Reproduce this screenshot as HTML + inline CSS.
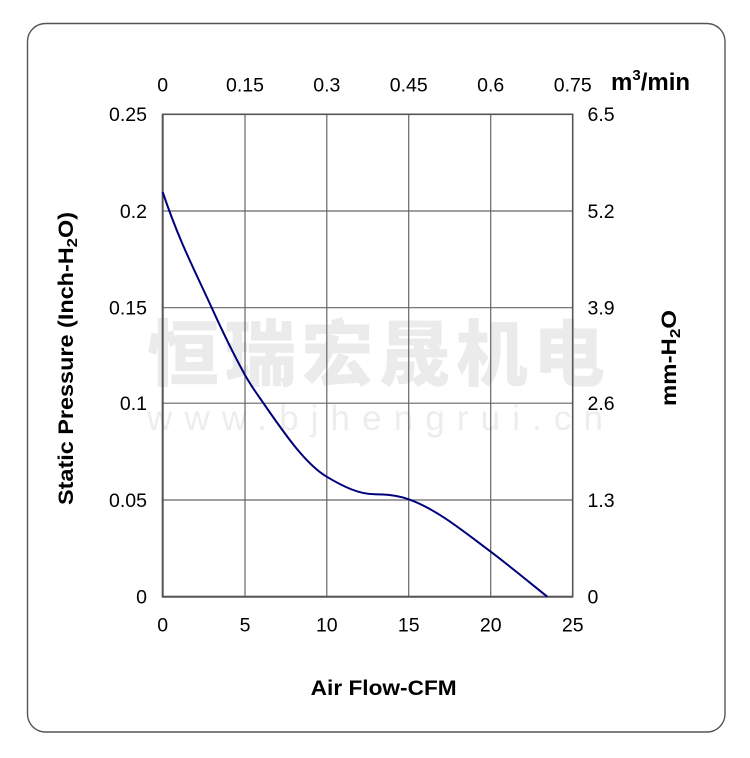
<!DOCTYPE html>
<html>
<head>
<meta charset="utf-8">
<style>
  html, body { margin: 0; padding: 0; background: #ffffff; }
  svg { display: block; }
  text { font-family: "Liberation Sans", Arial, sans-serif; }
</style>
</head>
<body>
<svg width="750" height="758" viewBox="0 0 750 758" xmlns="http://www.w3.org/2000/svg">
  <rect x="0" y="0" width="750" height="758" fill="#ffffff"/>
  <!-- outer frame -->
  <rect x="27.5" y="23.5" width="697.5" height="708.5" rx="18" ry="18" fill="none" stroke="#555555" stroke-width="1.4"/>

  <!-- watermark -->
  <text x="147" y="380" font-size="72" font-weight="900" fill="#ebebeb" textLength="458" lengthAdjust="spacing" style="font-family:'Liberation Sans','Noto Sans CJK SC',sans-serif;">恒瑞宏晟机电</text>
  <text x="147" y="430" font-size="35" fill="#ededed" textLength="456" lengthAdjust="spacing">www.bjhengrui.cn</text>

  <!-- grid -->
  <g stroke="#666666" stroke-width="1.2" fill="none">
    <line x1="245" y1="114.3" x2="245" y2="596.7"/>
    <line x1="326.8" y1="114.3" x2="326.8" y2="596.7"/>
    <line x1="408.7" y1="114.3" x2="408.7" y2="596.7"/>
    <line x1="490.7" y1="114.3" x2="490.7" y2="596.7"/>
    <line x1="162.7" y1="211" x2="572.7" y2="211"/>
    <line x1="162.7" y1="307.7" x2="572.7" y2="307.7"/>
    <line x1="162.7" y1="403.2" x2="572.7" y2="403.2"/>
    <line x1="162.7" y1="500" x2="572.7" y2="500"/>
  </g>
  <rect x="162.7" y="114.3" width="410" height="482.4" fill="none" stroke="#555555" stroke-width="1.6"/>
  <line x1="162.7" y1="114.3" x2="162.7" y2="597.5" stroke="#555555" stroke-width="2"/>
  <line x1="162" y1="596.7" x2="572.7" y2="596.7" stroke="#555555" stroke-width="2"/>

  <!-- curve -->
  <path d="M162.7,192 C179.03,241 195.37,271.77 211.7,307.7 C222.8,332.12 233.9,355.02 245,375 C251.1,385.98 257.2,394.15 263.3,403 C284.43,433.64 305.57,464.02 326.7,476.7 C342.8,486.36 358.9,494.3 375,494.3 C386.23,494.3 397.47,495.37 408.7,499.3 C436.03,508.87 463.37,531.2 490.7,551.7 C509.57,565.85 528.43,581.6 547.3,596.7" fill="none" stroke="#00007a" stroke-width="2"/>

  <!-- left tick labels -->
  <g font-size="19.5" fill="#000" text-anchor="end">
    <text x="147" y="121">0.25</text>
    <text x="147" y="217.8">0.2</text>
    <text x="147" y="314.5">0.15</text>
    <text x="147" y="410">0.1</text>
    <text x="147" y="506.8">0.05</text>
    <text x="147" y="603.5">0</text>
  </g>
  <!-- right tick labels -->
  <g font-size="19.5" fill="#000" text-anchor="start">
    <text x="587.5" y="121">6.5</text>
    <text x="587.5" y="217.8">5.2</text>
    <text x="587.5" y="314.5">3.9</text>
    <text x="587.5" y="410">2.6</text>
    <text x="587.5" y="506.8">1.3</text>
    <text x="587.5" y="603.5">0</text>
  </g>
  <!-- top tick labels -->
  <g font-size="19.5" fill="#000" text-anchor="middle">
    <text x="162.7" y="91.5">0</text>
    <text x="245" y="91.5">0.15</text>
    <text x="326.8" y="91.5">0.3</text>
    <text x="408.7" y="91.5">0.45</text>
    <text x="490.7" y="91.5">0.6</text>
    <text x="572.7" y="91.5">0.75</text>
  </g>
  <!-- bottom tick labels -->
  <g font-size="19.5" fill="#000" text-anchor="middle">
    <text x="162.7" y="631.5">0</text>
    <text x="245" y="631.5">5</text>
    <text x="326.8" y="631.5">10</text>
    <text x="408.7" y="631.5">15</text>
    <text x="490.7" y="631.5">20</text>
    <text x="572.7" y="631.5">25</text>
  </g>

  <!-- top unit -->
  <text x="611" y="90" font-size="24" font-weight="bold" fill="#000">m<tspan dy="-10" font-size="15">3</tspan><tspan dy="10">/min</tspan></text>

  <!-- bottom axis title -->
  <text x="310.7" y="695" font-size="21" font-weight="bold" fill="#000" textLength="146" lengthAdjust="spacingAndGlyphs">Air Flow-CFM</text>

  <!-- left axis title -->
  <text transform="translate(73,358.5) rotate(-90)" x="0" y="0" text-anchor="middle" font-size="21" font-weight="bold" fill="#000" textLength="293" lengthAdjust="spacingAndGlyphs">Static Pressure (Inch-H<tspan dy="4" font-size="15">2</tspan><tspan dy="-4">O)</tspan></text>

  <!-- right axis title -->
  <text transform="translate(676,358) rotate(-90)" x="0" y="0" text-anchor="middle" font-size="21" font-weight="bold" fill="#000" textLength="96" lengthAdjust="spacingAndGlyphs">mm-H<tspan dy="4" font-size="15">2</tspan><tspan dy="-4">O</tspan></text>
</svg>
</body>
</html>
